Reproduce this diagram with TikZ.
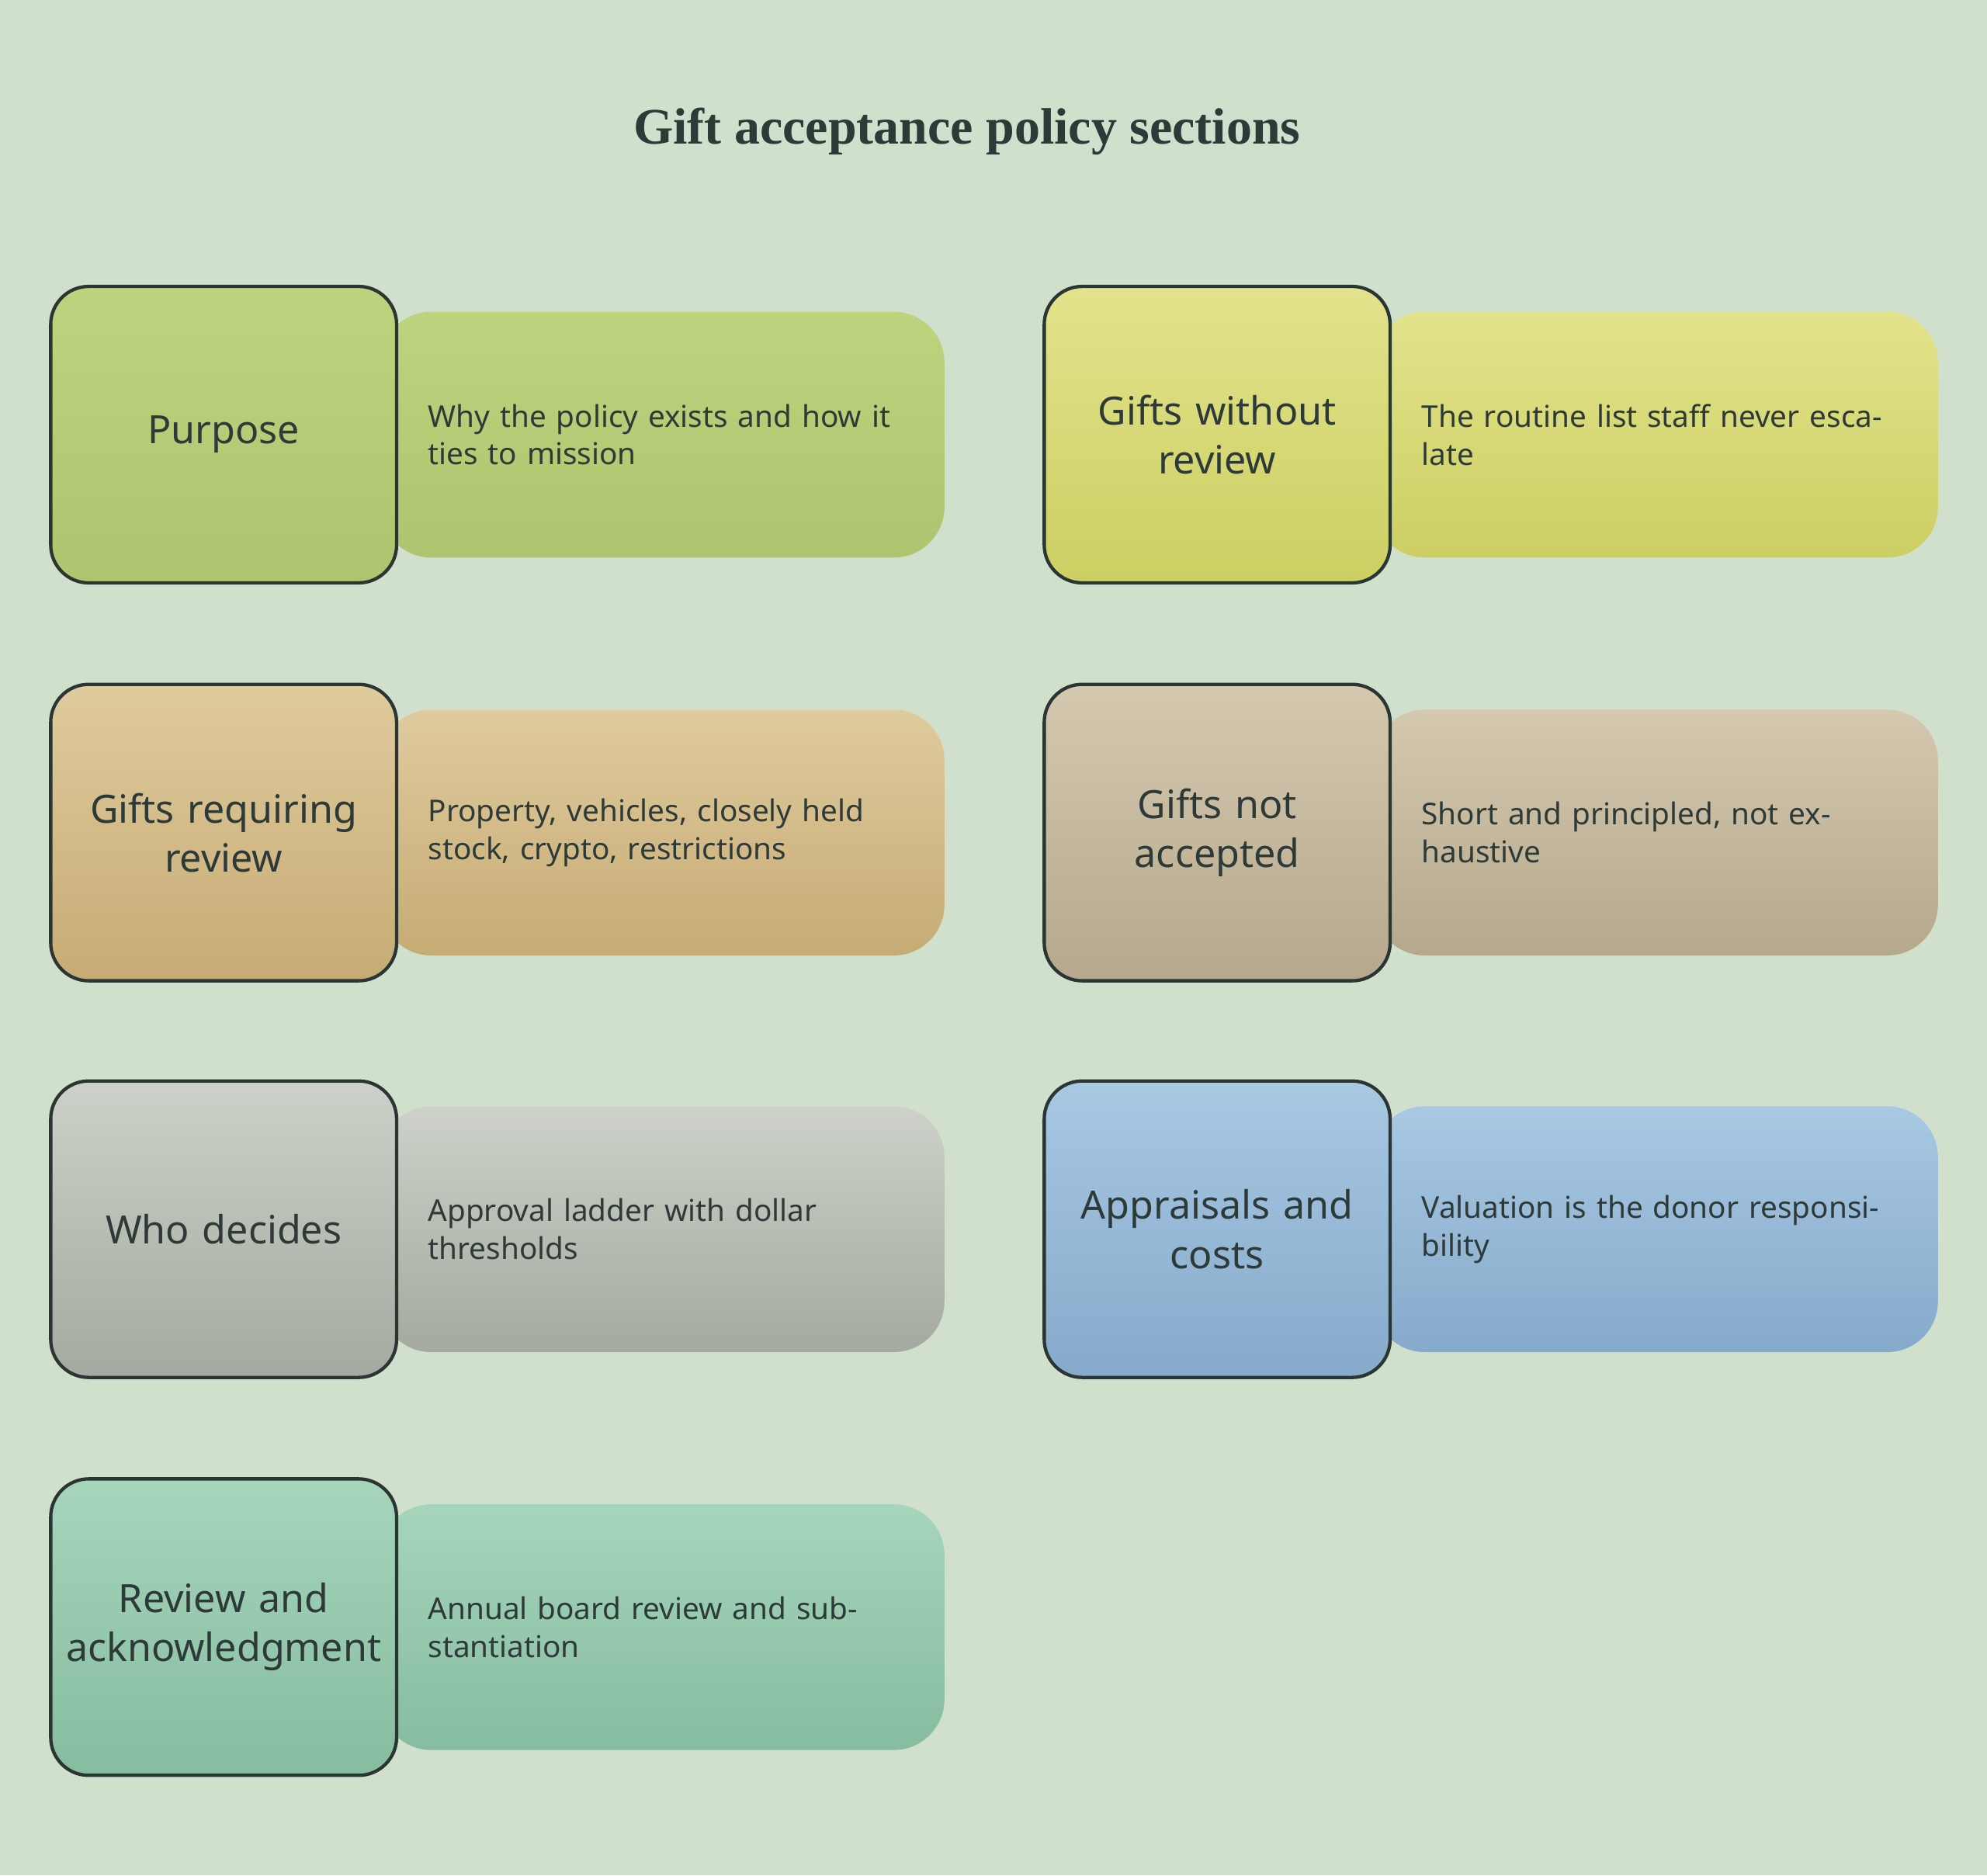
\documentclass[tikz,border=0pt]{standalone}
\usepackage{fontspec}
\setmainfont{Noto Sans}
\newfontfamily\titlefont{Liberation Serif}
\usetikzlibrary{positioning}
\definecolor{bgc}{HTML}{D1E0CD}
\definecolor{inkc}{HTML}{2E3A38}
\definecolor{linec}{HTML}{2B3634}
\definecolor{purposeT}{HTML}{BDD47F}\definecolor{purposeB}{HTML}{AEC46E}
\definecolor{withoutT}{HTML}{E2E38C}\definecolor{withoutB}{HTML}{CCCF63}
\definecolor{requireT}{HTML}{E0CB9E}\definecolor{requireB}{HTML}{C6AB74}
\definecolor{notaccT}{HTML}{D4C8AF}\definecolor{notaccB}{HTML}{B5A88C}
\definecolor{whoT}{HTML}{CDD1C9}\definecolor{whoB}{HTML}{A4AA9F}
\definecolor{appraiseT}{HTML}{A8C8E3}\definecolor{appraiseB}{HTML}{86AACB}
\definecolor{reviewT}{HTML}{A6D5BC}\definecolor{reviewB}{HTML}{86BC9F}
\tikzset{
  sectionbox/.style={draw=linec, line width=1.5pt, rounded corners=0.6cm,
    minimum width=5.46cm, minimum height=4.68cm, text width=5.2cm, align=center,
    inner sep=0pt, text=inkc, font=\fontsize{17.5}{22}\selectfont},
  descpill/.style={rounded corners=0.8cm, minimum width=8.9cm, minimum height=3.88cm,
    text width=7.4cm, align=left, inner xsep=0.75cm, inner ysep=0pt, anchor=west,
    text=inkc, font=\fontsize{13.5}{17}\selectfont},
}
% one row: name, x, y, colour, label, description
\newcommand\policyrow[6]{%
  \node[descpill, top color=#4T, bottom color=#4B] (#1d) at (#2+300,#3+117) {#6};
  \node[sectionbox, top color=#4T, bottom color=#4B] (#1) at (#2+176.5,#3+117) {#5};
}
\begin{document}
\begin{tikzpicture}[x=0.02cm, y=-0.02cm]
	\fill[bgc] (0,0) rectangle (1568,1480);
	\node[text=inkc, font=\titlefont\bfseries\fontsize{23}{28}\selectfont] (title) at (763,104) {Gift acceptance policy sections};
	\policyrow{purpose}{0}{226}{purpose}{Purpose}{Why the policy exists and how it ties to mission}
	\policyrow{without}{784}{226}{without}{Gifts without\\review}{The routine list staff never escalate}
	\policyrow{require}{0}{540}{require}{Gifts requiring\\review}{Property, vehicles, closely held stock, crypto, restrictions}
	\policyrow{notacc}{784}{540}{notacc}{Gifts not\\accepted}{Short and principled, not exhaustive}
	\policyrow{who}{0}{853}{who}{Who decides}{Approval ladder with dollar thresholds}
	\policyrow{appraise}{784}{853}{appraise}{Appraisals and\\costs}{Valuation is the donor responsibility}
	\policyrow{review}{0}{1167}{review}{Review and\\acknowledgment}{Annual board review and substantiation}
\end{tikzpicture}
\end{document}
